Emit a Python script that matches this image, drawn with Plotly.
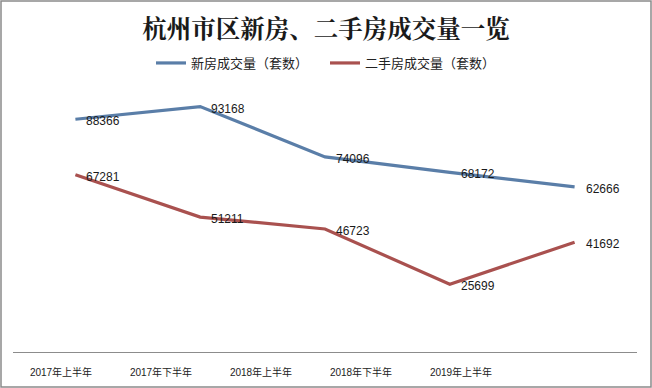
import plotly.graph_objects as go

periods = ["2017年上半年", "2017年下半年", "2018年上半年", "2018年下半年", "2019年上半年"]
new_homes = [88366, 93168, 74096, 68172, 62666]
resale_homes = [67281, 51211, 46723, 25699, 41692]
series_names = ["新房成交量（套数）", "二手房成交量（套数）"]
title_text = "杭州市区新房、二手房成交量一览"

W, H = 652, 388
ML, MR, MT, MB = 10, 12, 86, 36
PW = W - ML - MR
PH = H - MT - MB

def px_dom(a, b):
    return [(a - ML) / PW, (b - ML) / PW]

blue = "#5a7ea8"
red = "#a9514f"

fig = go.Figure()
fig.add_trace(go.Scatter(x=periods, y=new_homes, mode="lines", name=series_names[0],
                         line=dict(color=blue, width=3.2), hoverinfo="skip"))
fig.add_trace(go.Scatter(x=periods, y=resale_homes, mode="lines", name=series_names[1],
                         line=dict(color=red, width=3.2), hoverinfo="skip"))
# dummy trace for tick-label axis
fig.add_trace(go.Scatter(x=periods, y=[None] * len(periods), xaxis="x2", yaxis="y",
                         mode="lines", showlegend=False, hoverinfo="skip"))

annotations = []
for vals in (new_homes, resale_homes):
    for p, v in zip(periods, vals):
        annotations.append(dict(x=p, y=v, xref="x", yref="y", text=str(v), showarrow=False,
                                xanchor="left", yanchor="middle", xshift=9, yshift=-2,
                                font=dict(family="Liberation Sans, Arial", size=12, color="#1a1a1a")))

fig.update_layout(
    width=W, height=H,
    margin=dict(l=ML, r=MR, t=MT, b=MB),
    paper_bgcolor="white", plot_bgcolor="rgba(0,0,0,0)",
    title=dict(text="<b>" + title_text + "</b>", x=0.5, xanchor="center", y=1 - 29 / H, yanchor="middle",
               font=dict(family="Noto Serif CJK SC, Noto Sans CJK SC", size=24.5, color="#1a1a1a")),
    legend=dict(orientation="h", x=0.5, xanchor="center", y=1 + (MT - 63) / PH, yanchor="middle",
                font=dict(family="Noto Sans CJK SC", size=13, color="#222"),
                itemwidth=30, entrywidth=129, bgcolor="rgba(0,0,0,0)"),
    xaxis=dict(type="category", range=[-0.5, 4.5], domain=px_dom(13, 637), showticklabels=False,
               ticks="", showgrid=False, showline=True, linecolor="#8c8c8c", linewidth=1,
               zeroline=False, anchor="y"),
    xaxis2=dict(type="category", range=[-0.5, 4.5], domain=px_dom(11, 511), anchor="y",
                showline=False, showgrid=False, ticks="", zeroline=False, ticklabelstandoff=13,
                tickfont=dict(family="Liberation Sans, Noto Sans CJK SC", size=10, color="#222")),
    yaxis=dict(range=[0, 101000], visible=False, showgrid=False, zeroline=False),
    annotations=annotations,
    shapes=[dict(type="rect", xref="paper", yref="paper",
                 x0=(1 - ML) / PW, x1=(W - 1 - ML) / PW,
                 y0=-(MB - 1) / PH, y1=1 + (MT - 1) / PH,
                 line=dict(color="#8a8a8a", width=1.5), layer="above")],
)

fig.write_html("out.html", config={"displayModeBar": False},
               post_script="document.body.style.margin='0';")
